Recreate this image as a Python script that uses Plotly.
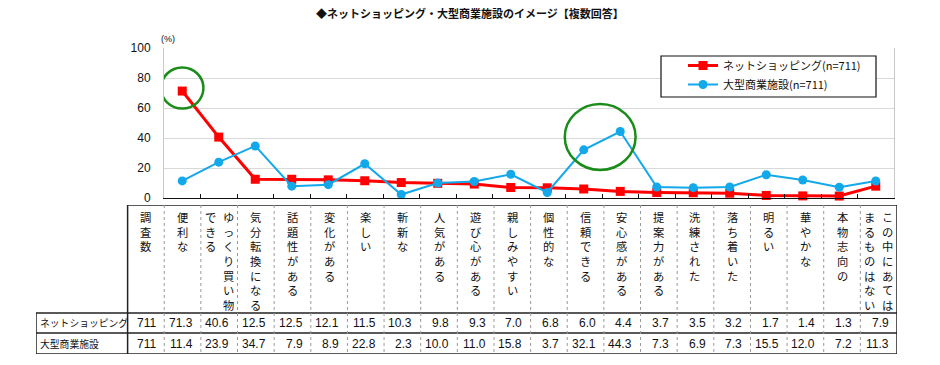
import plotly.graph_objects as go

# ---------------- data ----------------
categories = [
    "便利な", "ゆっくり買い物できる", "気分転換になる", "話題性がある", "変化がある",
    "楽しい", "斬新な", "人気がある", "遊び心がある", "親しみやすい",
    "個性的な", "信頼できる", "安心感がある", "提案力がある", "洗練された",
    "落ち着いた", "明るい", "華やかな", "本物志向の", "この中にあてはまるものはない",
]
# vertical label columns (right column first, as read top-to-bottom, right-to-left)
label_columns = [
    ["便利な"], ["ゆっくり買い物", "できる"], ["気分転換になる"], ["話題性がある"], ["変化がある"],
    ["楽しい"], ["斬新な"], ["人気がある"], ["遊び心がある"], ["親しみやすい"],
    ["個性的な"], ["信頼できる"], ["安心感がある"], ["提案力がある"], ["洗練された"],
    ["落ち着いた"], ["明るい"], ["華やかな"], ["本物志向の"], ["この中にあては", "まるものはない"],
]
series_names = ["ネットショッピング", "大型商業施設"]
sample_sizes = [711, 711]
net_shopping = [71.3, 40.6, 12.5, 12.5, 12.1, 11.5, 10.3, 9.8, 9.3, 7.0,
                6.8, 6.0, 4.4, 3.7, 3.5, 3.2, 1.7, 1.4, 1.3, 7.9]
large_facility = [11.4, 23.9, 34.7, 7.9, 8.9, 22.8, 2.3, 10.0, 11.0, 15.8,
                  3.7, 32.1, 44.3, 7.3, 6.9, 7.3, 15.5, 12.0, 7.2, 11.3]
y_ticks = [0, 20, 40, 60, 80, 100]
title_text = "◆ネットショッピング・大型商業施設のイメージ【複数回答】"
count_header = "調査数"

# ---------------- style ----------------
W, H = 940, 365
RED = "#FF0000"
BLUE = "#12A8EA"
GREEN = "#1A8C1A"
JP = "Noto Sans CJK JP"
NUM = "Liberation Sans, Arial"

def fx(p):
    return p / W

def fy(p):
    return 1 - p / H

n = len(categories)
xs = list(range(n))

fig = go.Figure()
fig.add_trace(go.Scatter(
    x=xs, y=net_shopping, mode="lines+markers",
    name=f"{series_names[0]}(n={sample_sizes[0]})",
    line=dict(color=RED, width=3),
    marker=dict(symbol="square", size=9, color=RED),
    xaxis="x", yaxis="y", cliponaxis=False,
))
fig.add_trace(go.Scatter(
    x=xs, y=large_facility, mode="lines+markers",
    name=f"{series_names[1]}(n={sample_sizes[1]})",
    line=dict(color=BLUE, width=2),
    marker=dict(symbol="circle", size=9, color=BLUE),
    xaxis="x", yaxis="y", cliponaxis=False,
))

shapes = []
annotations = []

# highlight ellipses (derived from data positions)
hl = [
    (0, net_shopping[0] + 2, 0.58, 13.7),
    (11.45, (large_facility[11] + large_facility[12]) / 2 + 2.5, 0.97, 22.0),
]
for cx, cy, rx, ry in hl:
    shapes.append(dict(type="circle", xref="x", yref="y",
                       x0=cx - rx, x1=cx + rx, y0=cy - ry, y1=cy + ry,
                       line=dict(color=GREEN, width=2.5), layer="above"))

# legend frame
shapes.append(dict(type="rect", xref="paper", yref="paper",
                   x0=fx(661), x1=fx(876), y0=fy(97), y1=fy(56),
                   line=dict(color="#111", width=1.2), fillcolor="white", layer="above"))

# ---------------- table (xaxis2 / yaxis2) ----------------
label_left = -4.0
count_col = -1
row_edges = [0, 5.4, 6.4, 7.45]
DARK = dict(color="#222222", width=1.5)
GRAY = dict(color="#9A9A9A", width=1, dash="dot")

def tline(x0, y0, x1, y1, line):
    shapes.append(dict(type="line", xref="x2", yref="y2",
                       x0=x0, y0=y0, x1=x1, y1=y1, line=line, layer="above"))

right = n - 0.5
tline(count_col - 0.5, row_edges[0], right, row_edges[0], DARK)
for ye in row_edges[1:]:
    tline(label_left, ye, right, ye, DARK)
tline(label_left, row_edges[1], label_left, row_edges[3], DARK)
tline(count_col - 0.5, row_edges[0], count_col - 0.5, row_edges[3], DARK)
for i in range(count_col, n - 1):
    tline(i + 0.5, row_edges[0], i + 0.5, row_edges[3], GRAY)
tline(right, row_edges[0], right, row_edges[3], DARK)

def vtext(x, s):
    annotations.append(dict(
        xref="x2", yref="y2", x=x, y=0.12, yanchor="top", xanchor="center",
        text="<br>".join(list(s)), showarrow=False,
        font=dict(family=JP, size=11.3, color="#111"),
    ))

vtext(count_col, count_header)
for i, cols in enumerate(label_columns):
    if len(cols) == 1:
        vtext(i, cols[0])
    else:
        vtext(i + 0.25, cols[0])
        vtext(i - 0.25, cols[1])

row_mid = [(row_edges[1] + row_edges[2]) / 2, (row_edges[2] + row_edges[3]) / 2]
for r, (name, vals) in enumerate(zip(series_names, [net_shopping, large_facility])):
    annotations.append(dict(
        xref="x2", yref="y2", x=label_left + 0.05, y=row_mid[r],
        xanchor="left", yanchor="middle", text=name, showarrow=False,
        font=dict(family=JP, size=9.8, color="#111"),
    ))
    annotations.append(dict(
        xref="x2", yref="y2", x=count_col + 0.5 - 0.17, y=row_mid[r],
        xanchor="right", yanchor="middle", text=str(sample_sizes[r]), showarrow=False,
        font=dict(family=NUM, size=12, color="#111"),
    ))
    for i, v in enumerate(vals):
        annotations.append(dict(
            xref="x2", yref="y2", x=i + 0.5 - 0.17, y=row_mid[r],
            xanchor="right", yanchor="middle", text=f"{v:.1f}", showarrow=False,
            font=dict(family=NUM, size=12, color="#111"),
        ))

# title and unit
annotations.append(dict(
    xref="paper", yref="paper", x=0.5, y=fy(13), xanchor="center", yanchor="middle",
    text=f"<b>{title_text}</b>", showarrow=False,
    font=dict(family=JP, size=11, color="#111"),
))
annotations.append(dict(
    xref="paper", yref="paper", x=fx(168), y=fy(39), xanchor="center", yanchor="middle",
    text="(%)", showarrow=False, font=dict(family=NUM, size=9, color="#111"),
))

fig.update_layout(
    width=W, height=H,
    margin=dict(l=0, r=0, t=0, b=0, pad=0, autoexpand=False),
    paper_bgcolor="white", plot_bgcolor="white",
    showlegend=True,
    legend=dict(
        x=fx(683), y=fy(51), xanchor="left", yanchor="top",
        borderwidth=0, bgcolor="rgba(0,0,0,0)",
        font=dict(family=JP, size=11, color="#111"),
        tracegroupgap=0,
    ),
    xaxis=dict(
        domain=[fx(164), fx(894)], range=[-0.5, n - 0.5],
        tickvals=[i + 0.5 for i in range(-1, n)], ticks="inside", ticklen=4,
        tickcolor="#111", showticklabels=False, showgrid=False, zeroline=False,
        showline=True, linecolor="#111", linewidth=1, anchor="y", fixedrange=True,
        automargin=False,
    ),
    yaxis=dict(
        domain=[fy(198), fy(48)], range=[0, 100], tickvals=y_ticks,
        showgrid=True, gridcolor="#D9D9D9", gridwidth=1, zeroline=False,
        showline=True, linecolor="#C8C8C8", mirror=True, ticks="",
        tickfont=dict(family=NUM, size=12, color="#111"), ticklabelstandoff=10,
        anchor="x", fixedrange=True, automargin=False,
    ),
    xaxis2=dict(domain=[fx(36), fx(897)], range=[label_left, right],
                visible=False, anchor="y2", fixedrange=True, automargin=False),
    yaxis2=dict(domain=[fy(354), fy(205)], range=[row_edges[-1], row_edges[0]],
                visible=False, anchor="x2", fixedrange=True, automargin=False),
    shapes=shapes,
    annotations=annotations,
)

fig.write_html(
    "out.html",
    config={"displayModeBar": False},
    post_script="document.body.style.margin='0';document.body.style.overflow='hidden';",
)
